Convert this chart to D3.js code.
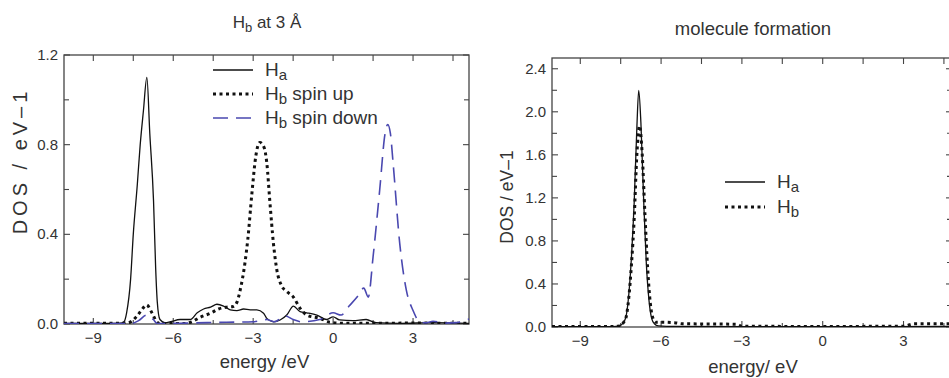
<!DOCTYPE html>
<html>
<head>
<meta charset="utf-8">
<script src="https://cdn.jsdelivr.net/npm/d3@7"></script>
<style>
  body { margin: 0; background: #fff; }
  text { font-family: "Liberation Sans", Arial, sans-serif; fill: #333; }
</style>
</head>
<body>
<div id="chart"></div>
<script>
// ---- data ----
// left panel: Hb at 3 A
var leftHa = [[-10.1,0.003],[-8.5,0.003],[-8.0,0.004],[-7.85,0.01],[-7.75,0.05],[-7.6,0.2],[-7.5,0.4],[-7.35,0.62],[-7.24,0.8],[-7.12,0.95],[-6.99,1.1],[-6.88,0.85],[-6.74,0.55],[-6.66,0.25],[-6.6,0.1],[-6.5,0.02],[-6.3,0.005],[-6.1,0.01],[-5.74,0.02],[-5.36,0.02],[-5.1,0.05],[-4.86,0.067],[-4.6,0.075],[-4.36,0.088],[-4.11,0.08],[-3.86,0.063],[-3.61,0.06],[-3.36,0.067],[-3.11,0.063],[-2.86,0.063],[-2.61,0.048],[-2.49,0.025],[-2.24,0.01],[-1.99,0.018],[-1.74,0.04],[-1.49,0.08],[-1.24,0.055],[-0.99,0.05],[-0.61,0.04],[-0.24,0.02],[0,0.032],[0.24,0.018],[0.74,0.015],[1.24,0.02],[1.6,0.006],[2.5,0.003],[3.75,0.006],[5.1,0.003]];
var leftHbUp = [[-10.1,0.003],[-8.0,0.003],[-7.7,0.005],[-7.4,0.03],[-7.2,0.06],[-7.0,0.085],[-6.8,0.05],[-6.62,0.01],[-6.5,0.002],[-5.6,0.002],[-5.3,0.01],[-4.99,0.03],[-4.6,0.048],[-4.3,0.067],[-3.99,0.075],[-3.75,0.078],[-3.6,0.1],[-3.49,0.15],[-3.3,0.28],[-3.2,0.38],[-3.05,0.58],[-2.9,0.75],[-2.75,0.81],[-2.6,0.79],[-2.49,0.72],[-2.37,0.54],[-2.24,0.36],[-2.11,0.24],[-1.93,0.17],[-1.74,0.145],[-1.49,0.12],[-1.24,0.07],[-0.99,0.04],[-0.49,0.025],[-0.12,0.008],[0.5,0.003],[3.0,0.004],[5.1,0.003]];
var leftHbDown = [[-10.1,0.002],[-7.6,0.002],[-7.3,0.015],[-7.0,0.04],[-6.75,0.02],[-6.6,0.002],[-5.5,0.004],[-4.0,0.008],[-3.0,0.01],[-2.5,0.02],[-2.2,0.01],[-1.8,0.036],[-1.5,0.02],[-1.2,0.01],[-0.5,0.02],[0,0.05],[0.3,0.04],[0.6,0.08],[0.9,0.12],[1.15,0.16],[1.32,0.12],[1.5,0.3],[1.75,0.6],[1.95,0.85],[2.05,0.89],[2.15,0.85],[2.25,0.72],[2.5,0.36],[2.75,0.15],[3.0,0.06],[3.25,0.01],[3.5,0.005],[3.75,0.012],[4.2,0.004],[4.6,0.006],[5.1,0.022]];

// right panel: molecule formation
var rightHa = [[-10.05,0.003],[-7.8,0.003],[-7.55,0.01],[-7.4,0.04],[-7.3,0.1],[-7.2,0.3],[-7.1,0.65],[-7.0,1.15],[-6.9,1.85],[-6.83,2.2],[-6.75,1.9],[-6.65,1.2],[-6.55,0.6],[-6.45,0.25],[-6.35,0.08],[-6.25,0.03],[-6.1,0.01],[-5.5,0.005],[0,0.004],[4.8,0.005]];
var rightHb = [[-10.05,0.004],[-7.8,0.004],[-7.55,0.01],[-7.4,0.04],[-7.3,0.09],[-7.2,0.27],[-7.1,0.58],[-7.0,1.0],[-6.9,1.6],[-6.8,1.87],[-6.7,1.6],[-6.6,1.05],[-6.5,0.55],[-6.4,0.22],[-6.3,0.08],[-6.2,0.045],[-6.0,0.045],[-5.5,0.04],[-5.2,0.03],[-4.0,0.028],[-3.2,0.025],[-3.0,0.008],[0,0.005],[3.0,0.008],[3.4,0.03],[4.8,0.03]];

var xTicks = [-9, -6, -3, 0, 3];
var leftYTicks = [0, 0.4, 0.8, 1.2];
var rightYTicks = [0, 0.4, 0.8, 1.2, 1.6, 2.0, 2.4];

var svg = d3.select("#chart").append("svg")
    .attr("width", 949)
    .attr("height", 378);

function panel(opt) {
    var x = d3.scaleLinear().domain(opt.xDomain).range([opt.left, opt.right]);
    var y = d3.scaleLinear().domain(opt.yDomain).range([opt.bottom, opt.top]);
    var g = svg.append("g");

    var clipId = "clip" + opt.id;
    g.append("clipPath").attr("id", clipId)
        .append("rect")
        .attr("x", opt.left).attr("y", opt.top)
        .attr("width", opt.right - opt.left).attr("height", opt.bottom - opt.top);

    // ticks, all pointing inward
    var xMinor = d3.range(-9, opt.xDomain[1], 1.5);
    var yMinor = d3.range(0, opt.yDomain[1] + 0.001, 0.2);
    var ticks = g.append("g").attr("stroke", "#444").attr("stroke-width", 1.1);
    xMinor.forEach(function(d) {
        var len = (d % 3 === 0) ? 6 : 4;
        ticks.append("line").attr("x1", x(d)).attr("x2", x(d))
            .attr("y1", opt.bottom).attr("y2", opt.bottom - len);
        ticks.append("line").attr("x1", x(d)).attr("x2", x(d))
            .attr("y1", opt.top).attr("y2", opt.top + 6);
    });
    yMinor.forEach(function(d) {
        var major = opt.yTicks.some(function(t) { return Math.abs(t - d) < 1e-6; });
        var len = major ? 6 : 5;
        ticks.append("line").attr("x1", opt.left).attr("x2", opt.left + len)
            .attr("y1", y(d)).attr("y2", y(d));
        ticks.append("line").attr("x1", opt.right).attr("x2", opt.right - len)
            .attr("y1", y(d)).attr("y2", y(d));
    });

    // tick labels
    g.selectAll(".xlab").data(xTicks).enter().append("text")
        .attr("x", function(d) { return x(d); })
        .attr("y", opt.bottom + 19)
        .attr("text-anchor", "middle")
        .attr("font-size", "15px")
        .text(function(d) { return d3.format("")(d); });
    g.selectAll(".ylab").data(opt.yTicks).enter().append("text")
        .attr("x", opt.left - 6)
        .attr("y", function(d) { return y(d) + 5; })
        .attr("text-anchor", "end")
        .attr("font-size", "15px")
        .text(function(d) { return d3.format(".1f")(d); });

    // frame
    g.append("rect")
        .attr("x", opt.left).attr("y", opt.top)
        .attr("width", opt.right - opt.left).attr("height", opt.bottom - opt.top)
        .attr("fill", "none").attr("stroke", "#444").attr("stroke-width", 1.3);

    var line = d3.line()
        .x(function(d) { return x(d[0]); })
        .y(function(d) { return y(d[1]); })
        .curve(d3.curveMonotoneX);

    var plot = g.append("g").attr("clip-path", "url(#" + clipId + ")");
    opt.series.forEach(function(s) {
        plot.append("path")
            .datum(s.data)
            .attr("d", line)
            .attr("fill", "none")
            .attr("stroke", s.color)
            .attr("stroke-width", s.width)
            .attr("stroke-dasharray", s.dash);
    });

    // legend
    opt.series.forEach(function(s, i) {
        var ly = opt.legend.y + i * opt.legend.step;
        g.append("line")
            .attr("x1", opt.legend.x).attr("x2", opt.legend.x + 40)
            .attr("y1", ly).attr("y2", ly)
            .attr("stroke", s.color)
            .attr("stroke-width", s.width)
            .attr("stroke-dasharray", s.dash);
        var t = g.append("text")
            .attr("x", opt.legend.x + 52)
            .attr("y", ly + 6)
            .attr("font-size", "19px");
        t.append("tspan").text("H");
        t.append("tspan").attr("font-size", "15px").attr("dy", 4).text(s.sub);
        if (s.rest) t.append("tspan").attr("dy", -4).text(s.rest);
    });

    // title and axis labels
    var title = g.append("text")
        .attr("x", opt.titleX).attr("y", opt.titleY)
        .attr("text-anchor", "middle")
        .attr("font-size", opt.titleSize);
    opt.title(title);

    g.append("text")
        .attr("x", (opt.left + opt.right) / 2 + opt.xLabShift)
        .attr("y", opt.xLabY)
        .attr("text-anchor", "middle")
        .attr("font-size", "18.5px")
        .text(opt.xLabel);

    g.append("text")
        .attr("transform", "translate(" + opt.yLabX + "," + opt.yLabY + ") rotate(-90)")
        .attr("text-anchor", "middle")
        .attr("font-size", opt.yLabSize)
        .attr("letter-spacing", opt.yLabSpacing)
        .text("DOS / eV\u20131");
}

panel({
    id: "L",
    left: 64, right: 469, top: 55, bottom: 324,
    xDomain: [-10.1, 5.1], yDomain: [0, 1.2],
    yTicks: leftYTicks,
    series: [
        { data: leftHa, color: "#111", width: 1.3, dash: null, sub: "a" },
        { data: leftHbUp, color: "#111", width: 3, dash: "3,3.5", sub: "b", rest: " spin up" },
        { data: leftHbDown, color: "#4a48b0", width: 1.6, dash: "15,8", sub: "b", rest: " spin down" }
    ],
    legend: { x: 213, y: 70, step: 24 },
    titleX: 267, titleY: 28, titleSize: "17px",
    title: function(t) {
        t.append("tspan").text("H");
        t.append("tspan").attr("font-size", "13px").attr("dy", 4).text("b");
        t.append("tspan").attr("dy", -4).text(" at 3 \u00c5");
    },
    xLabel: "energy /eV", xLabY: 368, xLabShift: -2,
    yLabX: 27, yLabY: 161, yLabSize: "20px", yLabSpacing: "4px"
});

panel({
    id: "R",
    left: 552, right: 952, top: 58, bottom: 327,
    xDomain: [-10.05, 4.8], yDomain: [0, 2.5],
    yTicks: rightYTicks,
    series: [
        { data: rightHa, color: "#111", width: 1.3, dash: null, sub: "a" },
        { data: rightHb, color: "#111", width: 3, dash: "3,3.5", sub: "b" }
    ],
    legend: { x: 725, y: 182, step: 25 },
    titleX: 753, titleY: 35, titleSize: "18.5px",
    title: function(t) { t.text("molecule formation"); },
    xLabel: "energy/ eV", xLabY: 373, xLabShift: 1,
    yLabX: 513, yLabY: 197, yLabSize: "17.5px", yLabSpacing: "0px"
});
</script>
</body>
</html>
